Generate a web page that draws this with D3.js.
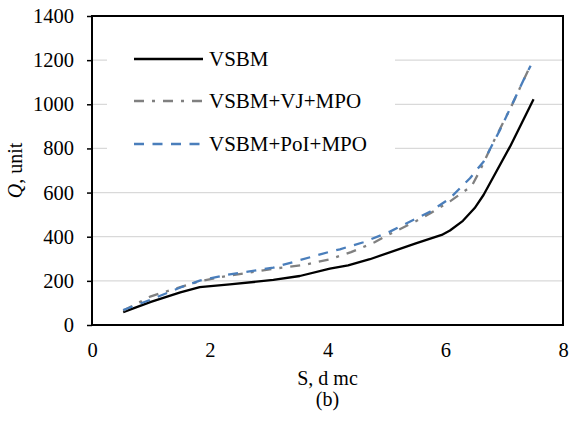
<!DOCTYPE html>
<html>
<head>
<meta charset="utf-8">
<script src="https://cdn.jsdelivr.net/npm/d3@7"></script>
<style>
  html, body { margin: 0; padding: 0; background: #fff; }
  svg { display: block; }
</style>
</head>
<body>
<svg id="chart" width="571" height="421"></svg>
<script>
// Flow Q versus spacing S for three modelling variants
const seriesNames = ["VSBM", "VSBM+VJ+MPO", "VSBM+PoI+MPO"];

const vsbmS = [0.53, 1.0, 1.5, 1.83, 2.34, 3.08, 3.53, 4.04, 4.35, 4.72, 5.5, 5.94, 6.08, 6.3, 6.5, 6.65, 7.1, 7.5];
const vsbmQ = [58, 105, 148, 172, 184, 204, 222, 255, 270, 298, 370, 408, 428, 472, 530, 589, 808, 1023];

const vjS = [0.53, 1.0, 1.5, 1.83, 2.2, 3.08, 3.6, 4.04, 4.4, 4.8, 5.06, 5.5, 5.74, 6.08, 6.45, 6.59, 6.8, 7.13, 7.45];
const vjQ = [65, 130, 172, 198, 218, 255, 272, 298, 330, 375, 412, 470, 505, 560, 630, 700, 820, 995, 1178];

const poiS = [0.53, 1.0, 1.5, 1.83, 2.26, 3.08, 4.04, 4.21, 4.61, 5.06, 5.74, 6.08, 6.42, 6.65, 6.93, 7.13, 7.33, 7.45];
const poiQ = [68, 115, 170, 201, 226, 260, 332, 343, 375, 423, 513, 574, 665, 740, 884, 997, 1110, 1175];

const xTicks = [0, 2, 4, 6, 8];
const yTicks = [0, 200, 400, 600, 800, 1000, 1200, 1400];

const serif = "'Liberation Serif', 'Times New Roman', Times, serif";

const svg = d3.select("#chart");
const plot = { left: 92, right: 563, top: 16, bottom: 325 };

const x = d3.scaleLinear().domain([0, 8]).range([plot.left, plot.right]);
const y = d3.scaleLinear().domain([0, 1400]).range([plot.bottom, plot.top]);

// horizontal gridlines
svg.append("g")
  .selectAll("line")
  .data(yTicks.filter(v => v > 0 && v < 1400))
  .join("line")
  .attr("x1", plot.left).attr("x2", plot.right)
  .attr("y1", d => y(d)).attr("y2", d => y(d))
  .attr("stroke", "#d9d9d9").attr("stroke-width", 1.3);

// y axis with outside ticks
const yAxis = d3.axisLeft(y).tickValues(yTicks).tickSize(5).tickPadding(13).tickFormat(d3.format("d"));
const gy = svg.append("g").attr("transform", `translate(${plot.left},0)`).call(yAxis)
  .attr("font-family", serif);
gy.select(".domain").remove();
gy.selectAll(".tick line").attr("stroke", "#000").attr("stroke-width", 1.5);
gy.selectAll(".tick text").attr("font-size", 20.5).attr("fill", "#000");

// x axis labels
const xAxis = d3.axisBottom(x).tickValues(xTicks).tickSize(0).tickPadding(17).tickFormat(d3.format("d"));
const gx = svg.append("g").attr("transform", `translate(0,${plot.bottom})`).call(xAxis)
  .attr("font-family", serif);
gx.select(".domain").remove();
gx.selectAll(".tick text").attr("font-size", 20.5).attr("fill", "#000");

// series lines
const line = d3.line().x(d => x(d[0])).y(d => y(d[1]));
const series = [
  { name: seriesNames[0], pts: d3.zip(vsbmS, vsbmQ), color: "#000000", dash: null, width: 2.3 },
  { name: seriesNames[1], pts: d3.zip(vjS, vjQ), color: "#808080", dash: "10 8 3 8", width: 2.3 },
  { name: seriesNames[2], pts: d3.zip(poiS, poiQ), color: "#4a7ebb", dash: "10 8.5", width: 2.3 }
];

svg.append("g").selectAll("path")
  .data(series)
  .join("path")
  .attr("d", d => line(d.pts))
  .attr("fill", "none")
  .attr("stroke", d => d.color)
  .attr("stroke-width", d => d.width)
  .attr("stroke-dasharray", d => d.dash)
  .attr("stroke-linejoin", "round");

// legend on a white panel
const legend = svg.append("g").attr("font-family", serif);
legend.append("rect").attr("x", 107).attr("y", 36).attr("width", 288).attr("height", 140).attr("fill", "#fff");
const rowsY = [59, 101, 144];
series.forEach((s, i) => {
  legend.append("line")
    .attr("x1", 134).attr("x2", 203)
    .attr("y1", rowsY[i]).attr("y2", rowsY[i])
    .attr("stroke", s.color).attr("stroke-width", s.width)
    .attr("stroke-dasharray", s.dash);
  legend.append("text")
    .attr("x", 209).attr("y", rowsY[i]).attr("dy", "0.35em")
    .attr("font-size", 21).text(s.name);
});

// plot frame
svg.append("rect")
  .attr("x", plot.left).attr("y", plot.top)
  .attr("width", plot.right - plot.left).attr("height", plot.bottom - plot.top)
  .attr("fill", "none").attr("stroke", "#000").attr("stroke-width", 2);

// axis titles
const titles = svg.append("g").attr("font-family", serif).attr("font-size", 20);
const yTitle = titles.append("text")
  .attr("transform", `translate(22,${(plot.top + plot.bottom) / 2}) rotate(-90)`)
  .attr("text-anchor", "middle");
yTitle.append("tspan").attr("font-style", "italic").text("Q");
yTitle.append("tspan").text(", unit");

titles.append("text")
  .attr("x", (plot.left + plot.right) / 2).attr("y", 385)
  .attr("text-anchor", "middle").text("S, d mc");

titles.append("text")
  .attr("x", (plot.left + plot.right) / 2).attr("y", 406)
  .attr("text-anchor", "middle").text("(b)");
</script>
</body>
</html>
